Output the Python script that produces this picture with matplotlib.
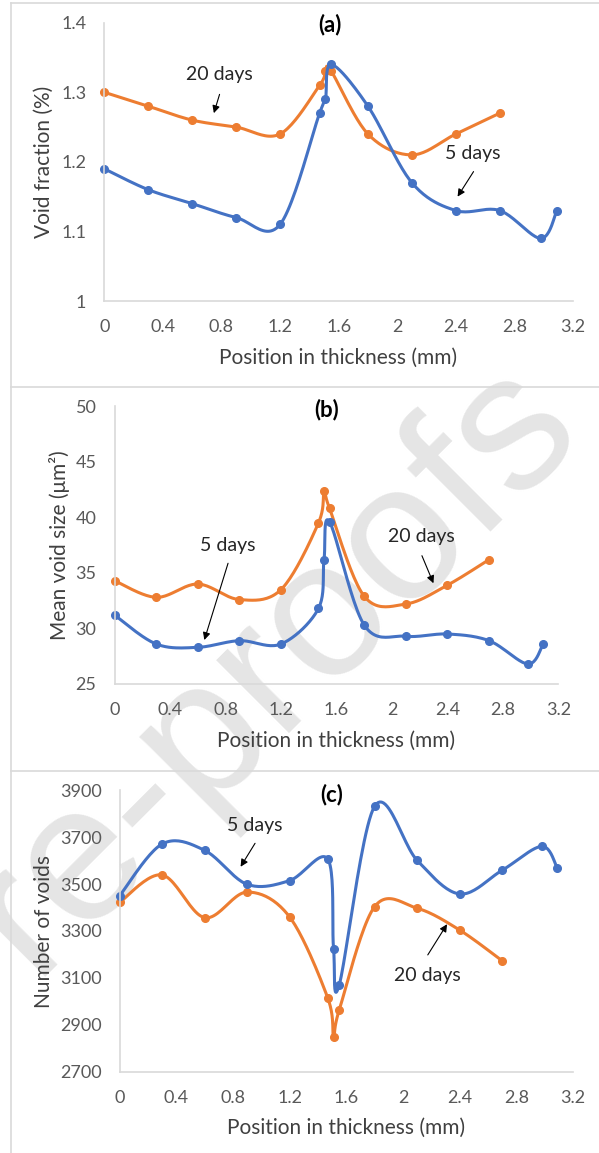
import numpy as np
import matplotlib.pyplot as plt
from matplotlib.lines import Line2D

plt.rcParams['font.family'] = ['Lato', 'DejaVu Sans']

W, H = 599, 1153

# ---------------- data ----------------
pos_5 = [0, 0.3, 0.6, 0.9, 1.2, 1.47, 1.51, 1.55, 1.8, 2.1, 2.4, 2.7, 2.98, 3.09]
pos_20 = [0, 0.3, 0.6, 0.9, 1.2, 1.47, 1.51, 1.55, 1.8, 2.1, 2.4, 2.7]

frac_5 = [1.19, 1.16, 1.14, 1.12, 1.11, 1.27, 1.29, 1.34, 1.28, 1.17, 1.13, 1.13, 1.09, 1.13]
frac_20 = [1.30, 1.28, 1.26, 1.25, 1.24, 1.31, 1.33, 1.33, 1.24, 1.21, 1.24, 1.27]

size_5 = [31.2, 28.6, 28.3, 28.9, 28.6, 31.8, 36.2, 39.6, 30.3, 29.3, 29.5, 28.9, 26.8, 28.6]
size_20 = [34.3, 32.8, 34.0, 32.6, 33.5, 39.5, 42.4, 40.8, 32.9, 32.2, 33.9, 36.2]

count_5 = [3450, 3671, 3644, 3499, 3515, 3606, 3225, 3070, 3832, 3601, 3458, 3559, 3661, 3567]
count_20 = [3422, 3539, 3357, 3466, 3360, 3013, 2849, 2963, 3404, 3397, 3304, 3173]

xticks = [0, 0.4, 0.8, 1.2, 1.6, 2, 2.4, 2.8, 3.2]
xtick_labels = ['0', '0.4', '0.8', '1.2', '1.6', '2', '2.4', '2.8', '3.2']

BLUE = '#4472C4'
ORANGE = '#ED7D31'
GRID = '#d9d9d9'
TICK = '#595959'
LABEL = '#404040'


def smooth(x, y, n=24):
    # excel-like smoothed line (catmull-rom as cubic bezier)
    x = np.asarray(x, float)
    y = np.asarray(y, float)
    px = np.concatenate([[x[0]], x, [x[-1]]])
    py = np.concatenate([[y[0]], y, [y[-1]]])
    t = np.linspace(0, 1, n)[:, None]
    xs, ys = [], []
    for i in range(1, len(px) - 2):
        p0 = np.array([px[i], py[i]])
        p3 = np.array([px[i + 1], py[i + 1]])
        p1 = p0 + (p3 - np.array([px[i - 1], py[i - 1]])) / 6
        p2 = p3 - (np.array([px[i + 2], py[i + 2]]) - p0) / 6
        b = ((1 - t) ** 3) * p0 + 3 * ((1 - t) ** 2) * t * p1 + 3 * (1 - t) * t ** 2 * p2 + t ** 3 * p3
        xs.append(b[:, 0])
        ys.append(b[:, 1])
    return np.concatenate(xs), np.concatenate(ys)


def add_panel(fig, box, x5, y5, x20, y20, ylim, yticks, ylabel, title,
              ylabel_x, title_xy, xlabel_xy):
    l, t, r, b = box
    ax = fig.add_axes([l / W, 1 - b / H, (r - l) / W, (b - t) / H])
    ax.set_facecolor('none')
    for xx, yy, c in [(x20, y20, ORANGE), (x5, y5, BLUE)]:
        sx, sy = smooth(xx, yy)
        ax.plot(sx, sy, color=c, lw=2.2, solid_capstyle='round', clip_on=False)
        ax.plot(xx, yy, 'o', color=c, ms=5.5, clip_on=False)
    ax.set_xlim(0, 3.2)
    ax.set_ylim(*ylim)
    ax.set_xticks(xticks)
    ax.set_xticklabels(xtick_labels)
    ax.set_yticks(yticks)
    for s in ['top', 'right']:
        ax.spines[s].set_visible(False)
    for s in ['left', 'bottom']:
        ax.spines[s].set_color(GRID)
        ax.spines[s].set_linewidth(1.2)
    ax.tick_params(length=0, labelsize=13, labelcolor=TICK)
    ax.tick_params(axis='y', pad=13)
    ax.tick_params(axis='x', pad=13)
    ax.set_xlabel('Position in thickness (mm)', fontsize=15, color=LABEL)
    ax.set_ylabel(ylabel, fontsize=15, color=LABEL)
    ax.xaxis.set_label_coords(xlabel_xy[0] / W, 1 - xlabel_xy[1] / H, transform=fig.transFigure)
    ax.xaxis.label.set_va('center')
    ax.yaxis.set_label_coords(ylabel_x / W, 1 - (t + b) / 2 / H, transform=fig.transFigure)
    ax.yaxis.label.set_va('center')
    fig.text(title_xy[0] / W, 1 - title_xy[1] / H, title, fontsize=16,
             fontweight='bold', ha='center', va='center', color='black')
    return ax


def label(ax, text, txy, start, end):
    ax.text(txy[0], txy[1], text, fontsize=14, color='#262626', ha='center', va='center')
    ax.annotate('', xy=end, xytext=start,
                arrowprops=dict(arrowstyle='-|>', color='black', lw=0.8,
                                mutation_scale=11, shrinkA=0, shrinkB=0))


fig = plt.figure(figsize=(W / 100, H / 100), dpi=100)
fig.patch.set_facecolor('white')

# watermark behind the charts
fig.text(32 / W, 1 - 977 / H, 're-proofs', fontsize=140, color='#e5e5e5',
         family='Liberation Sans', rotation=45,
         rotation_mode='anchor', ha='left', va='baseline', zorder=-1)

# panel frames
for y in [3, 387, 771]:
    fig.add_artist(Line2D([11 / W, 1], [1 - y / H, 1 - y / H], color=GRID, lw=1.2))
fig.add_artist(Line2D([11 / W, 11 / W], [0, 1 - 3 / H], color=GRID, lw=1.2))

ax1 = add_panel(fig, (104.3, 22.7, 573, 301), pos_5, frac_5, pos_20, frac_20,
                (1, 1.4), [1, 1.1, 1.2, 1.3, 1.4], 'Void fraction (%)', '(a)',
                44, (330, 25), (338, 358))
ax1.set_yticklabels(['1', '1.1', '1.2', '1.3', '1.4'])
label(ax1, '20 days', (0.787, 1.325), (0.787, 1.297), (0.748, 1.270))
label(ax1, '5 days', (2.514, 1.212), (2.521, 1.186), (2.412, 1.150))

ax2 = add_panel(fig, (114.6, 406.3, 558.4, 684), pos_5, size_5, pos_20, size_20,
                (25, 50), [25, 30, 35, 40, 45, 50], 'Mean void size (μm²)', '(b)',
                59, (327, 410), (336, 741))
label(ax2, '5 days', (0.818, 37.5), (0.818, 35.87), (0.647, 28.96))
label(ax2, '20 days', (2.209, 38.26), (2.216, 36.55), (2.299, 34.07))

ax3 = add_panel(fig, (119.6, 790.3, 573, 1071.7), pos_5, count_5, pos_20, count_20,
                (2700, 3900), [2700, 2900, 3100, 3300, 3500, 3700, 3900], 'Number of voids', '(c)',
                44, (332, 795), (346, 1128))
label(ax3, '5 days', (0.956, 3752), (0.956, 3674), (0.854, 3574))
label(ax3, '20 days', (2.170, 3112), (2.175, 3198), (2.311, 3329))

fig.savefig('out.png', dpi=100)
